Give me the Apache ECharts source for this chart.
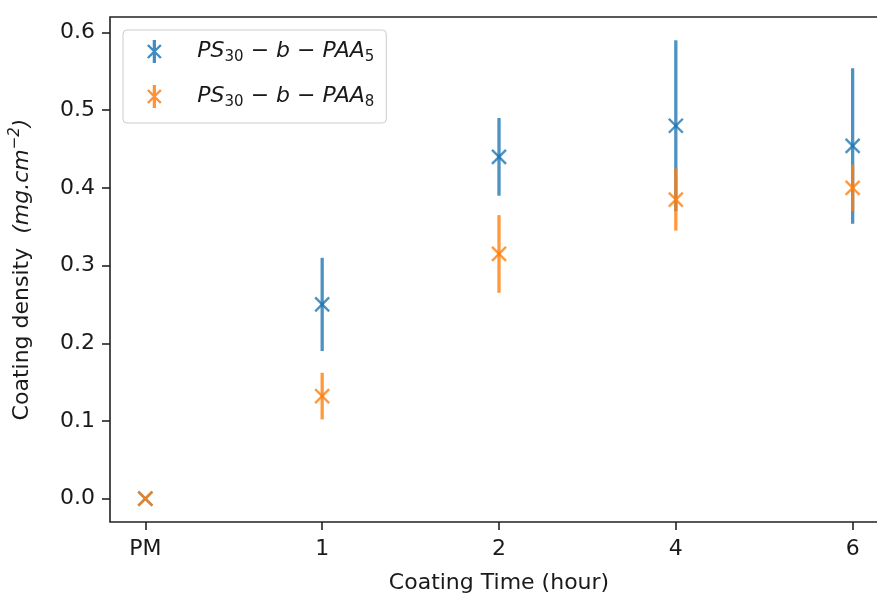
<!DOCTYPE html>
<html><head><meta charset="utf-8">
<script src="https://cdn.jsdelivr.net/npm/echarts@6/dist/echarts.min.js"></script>
<style>html,body{margin:0;padding:0;background:#fff}#c{width:877px;height:593px}</style>
</head><body><div id="c"></div>
<script>
const categories = ['PM', '1', '2', '4', '6'];
const paa5Mean = [0, 0.250, 0.440, 0.480, 0.454];
const paa5Err  = [0, 0.060, 0.050, 0.110, 0.100];
const paa8Mean = [0, 0.132, 0.315, 0.385, 0.400];
const paa8Err  = [0, 0.030, 0.050, 0.040, 0.030];
const yTicks = [0.0, 0.1, 0.2, 0.3, 0.4, 0.5, 0.6];
const xTicks = categories.map((c, i) => i);

const BLUE = '#1f77b4', ORANGE = '#ff7f0e';
const FONT = 'DejaVu Sans';
const TXT = '#1a1a1a';

function rgba(hex, a) {
  const n = parseInt(hex.slice(1), 16);
  return 'rgba(' + (n >> 16) + ',' + ((n >> 8) & 255) + ',' + (n & 255) + ',' + a + ')';
}

function makeRender(color) {
  const stroke = rgba(color, 0.8);
  return function (params, api) {
    const x = api.value(0), m = api.value(1), e = api.value(2);
    const c = api.coord([x, m]);
    const t = api.coord([x, m + e]);
    const b = api.coord([x, m - e]);
    const s = 7;
    const children = [];
    if (e > 0) {
      children.push({ type: 'line', shape: { x1: c[0], y1: t[1], x2: c[0], y2: b[1] },
        style: { stroke: stroke, lineWidth: 3.3 } });
    }
    children.push({ type: 'line', shape: { x1: c[0] - s, y1: c[1] - s, x2: c[0] + s, y2: c[1] + s },
      style: { stroke: stroke, lineWidth: 2.4 } });
    children.push({ type: 'line', shape: { x1: c[0] - s, y1: c[1] + s, x2: c[0] + s, y2: c[1] - s },
      style: { stroke: stroke, lineWidth: 2.4 } });
    return { type: 'group', children: children };
  };
}

function build(means, errs) {
  return means.map((m, i) => [i, m, errs[i]]);
}

// legend handle: vertical error bar with an "x" marker, as a filled path
function seg(x1, y1, x2, y2, w) {
  const dx = x2 - x1, dy = y2 - y1, L = Math.hypot(dx, dy);
  const nx = -dy / L * w / 2, ny = dx / L * w / 2;
  const p = [[x1 + nx, y1 + ny], [x2 + nx, y2 + ny], [x2 - nx, y2 - ny], [x1 - nx, y1 - ny]];
  return 'M' + p.map(q => q[0].toFixed(2) + ',' + q[1].toFixed(2)).join('L') + 'Z';
}
const ICON = 'path://' + seg(8, 0, 8, 23, 3.2) + seg(1.5, 5, 14.5, 18, 2.4) + seg(14.5, 5, 1.5, 18, 2.4);

const legendText = {
  'PAA5': '{g| }{i|PS}{s|30}{i| − b − PAA}{s|5}',
  'PAA8': '{g| }{i|PS}{s|30}{i| − b − PAA}{s|8}'
};

const chart = echarts.init(document.getElementById('c'), null, { renderer: 'canvas' });
chart.setOption({
  backgroundColor: '#ffffff',
  animation: false,
  grid: { left: 110, top: 17, width: 778, bottom: 71, outerBoundsMode: 'none', containLabel: false,
    show: true, borderColor: '#222222', borderWidth: 1.6, backgroundColor: 'transparent' },
  legend: {
    left: 123, top: 30, orient: 'vertical',
    padding: [10, 12, 13, 24],
    itemGap: 20, itemWidth: 16, itemHeight: 23,
    backgroundColor: 'rgba(255,255,255,0.8)',
    borderColor: '#cccccc', borderWidth: 1, borderRadius: 4,
    data: [
      { name: 'PAA5', icon: ICON, itemStyle: { color: rgba(BLUE, 0.85) } },
      { name: 'PAA8', icon: ICON, itemStyle: { color: rgba(ORANGE, 0.85) } }
    ],
    formatter: n => legendText[n],
    textStyle: {
      color: TXT, fontFamily: FONT, fontSize: 22,
      rich: {
        g: { width: 30, fontSize: 22 },
        i: { fontStyle: 'italic', fontFamily: FONT, fontSize: 22, color: TXT },
        s: { fontFamily: FONT, fontSize: 15, color: TXT, padding: [12, 0, 0, 0] }
      }
    }
  },
  xAxis: {
    type: 'value', min: -0.2, max: 4.2,
    name: 'Coating Time (hour)', nameLocation: 'middle', nameGap: 50,
    nameTextStyle: { fontFamily: FONT, fontSize: 22, color: TXT },
    axisLine: { show: false, onZero: false },
    splitLine: { show: false },
    axisTick: { show: true, inside: false, length: 8, customValues: xTicks, lineStyle: { color: '#222222', width: 1.6 } },
    axisLabel: { customValues: xTicks, margin: 16, fontFamily: FONT, fontSize: 22, color: TXT,
      formatter: v => categories[Math.round(v)] },
  },
  yAxis: {
    type: 'value', min: -0.03, max: 0.62,
    name: '{n|Coating density  }{i|(mg.cm}{p|−2}{i|)}', nameLocation: 'middle', nameGap: 74, nameRotate: 90,
    nameTextStyle: {
      fontFamily: FONT, fontSize: 22, color: TXT,
      rich: {
        n: { fontFamily: FONT, fontSize: 22, color: TXT },
        i: { fontFamily: FONT, fontSize: 22, fontStyle: 'italic', color: TXT },
        p: { fontFamily: FONT, fontSize: 15, fontStyle: 'italic', color: TXT, padding: [0, 0, 13, 0] }
      }
    },
    axisLine: { show: false, onZero: false },
    splitLine: { show: false },
    axisTick: { show: true, inside: false, length: 8, customValues: yTicks, lineStyle: { color: '#222222', width: 1.6 } },
    axisLabel: { customValues: yTicks, margin: 15, fontFamily: FONT, fontSize: 22, color: TXT,
      formatter: v => v.toFixed(1) }
  },
  series: [
    { name: 'PAA5', type: 'custom', renderItem: makeRender(BLUE), itemStyle: { color: BLUE },
      encode: { x: 0, y: 1 }, data: build(paa5Mean, paa5Err), clip: false },
    { name: 'PAA8', type: 'custom', renderItem: makeRender(ORANGE), itemStyle: { color: ORANGE },
      encode: { x: 0, y: 1 }, data: build(paa8Mean, paa8Err), clip: false }
  ]
});
</script></body></html>
